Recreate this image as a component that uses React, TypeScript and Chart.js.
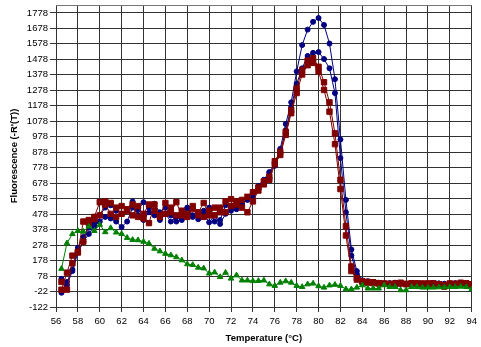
import React, { useEffect, useRef } from 'react';
import { Chart, registerables } from 'chart.js';

Chart.register(...registerables);

const TEMPS = [
  56.5, 57, 57.5, 58, 58.5, 59, 59.5, 60, 60.5, 61, 61.5, 62, 62.5, 63, 63.5, 64, 64.5, 65, 65.5, 66,
  66.5, 67, 67.5, 68, 68.5, 69, 69.5, 70, 70.5, 71, 71.5, 72, 72.5, 73, 73.5, 74, 74.5, 75, 75.5, 76,
  76.5, 77, 77.5, 78, 78.5, 79, 79.5, 80, 80.5, 81, 81.5, 82, 82.5, 83, 83.5, 84, 84.5, 85, 85.5, 86,
  86.5, 87, 87.5, 88, 88.5, 89, 89.5, 90, 90.5, 91, 91.5, 92, 92.5, 93, 93.5, 94,
];

const BLUE_1 = [
  -30, 40, 120, 260, 330, 390, 420, 470, 520, 535, 500, 480, 510, 560, 505, 555, 520, 545, 490, 520,
  470, 430, 500, 515, 460, 470, 500, 520, 430, 440, 535, 520, 510, 540, 580,
  610, 660, 700, 750, 800, 900, 1060, 1200, 1400, 1570, 1670, 1720, 1745,
  1700, 1580, 1350, 960, 570, 250, 110, 50,
  45, 40, 35, 30, 30, 35, 30, 28, 30, 32, 28, 30, 25, 30, 28, 30, 32, 28, 30, 25,
];

const BLUE_2 = [
  60, 20, 110, 230, 300, 350, 400, 430, 460, 450, 430, 395, 430, 520, 470, 440, 490, 470, 440, 480,
  430, 460, 440, 520, 470, 445, 480, 425, 470, 415, 480, 500, 520, 540, 570,
  590, 640, 680, 745, 790, 880, 1020, 1170, 1320, 1420, 1500, 1520, 1525,
  1480, 1420, 1260, 840, 490, 210, 90, 45,
  40, 35, 30, 28, 32, 30, 28, 25, 30, 28, 30, 25, 28, 30, 25, 28, 30, 30, 25, 22,
];

const RED_1 = [
  -10, 100, 210, 235, 430, 440, 460, 555, 560, 550, 520, 530, 500, 540, 460, 480, 540, 500, 470, 550,
  490, 555, 470, 460, 530, 490, 550, 470, 520, 490, 560, 575, 540, 570, 590,
  620, 650, 690, 720, 820, 880, 1010, 1150, 1290, 1410, 1470, 1485, 1430,
  1330, 1200, 1000, 700, 400, 140, 65, 45,
  40, 38, 32, 30, 28, 30, 35, 28, 32, 30, 30, 28, 32, 25, 10, 30, 28, 35, 32, 25,
];

const RED_2 = [
  40, -10, 160, 230, 300, 420, 445, 470, 540, 480, 460, 480, 510, 470, 530, 450, 420, 540, 460, 480,
  520, 470, 500, 480, 510, 470, 460, 500, 470, 520, 490, 530, 560, 520, 490,
  560, 630, 670, 700, 800, 860, 990, 1130, 1260, 1380, 1440, 1455, 1400,
  1280, 1140, 930, 640, 340, 110, 55, 40,
  35, 32, 30, 28, 25, 28, 30, 25, 28, 30, 25, 30, 28, 25, 20, 28, 25, 30, 28, 22,
];

const GREEN = [
  125, 290, 350, 370, 365, 398, 370, 410, 362, 388, 360, 350, 325, 312, 310, 300, 288, 255, 238, 222,
  213, 200, 180, 155, 150, 133, 128, 95, 102, 72, 100, 62, 83, 50, 50, 46, 47, 50, 25, 15,
  36, 45, 36, 15, 8, 25, 30, 13, 4, 18, 22, 15, -7, -7, 4, 19,
  -2, -2, -2, 19, 8, 8, -13, -13, 8, 8, 4, 4, 4, 6, 6, 8, 8, 10, 8, -7,
];

const X_TICKS = [56, 58, 60, 62, 64, 66, 68, 70, 72, 74, 76, 78, 80, 82, 84, 86, 88, 90, 92, 94];
const Y_TICKS = [
  -122, -22, 78, 178, 278, 378, 478, 578, 678, 778, 878, 978, 1078, 1178, 1278, 1378, 1478, 1578, 1678, 1778,
];

const X_TITLE = 'Temperature (°C)';
const Y_TITLE = "Fluorescence (-R'(T))";

const FONT = 'Liberation Sans, Arial, Helvetica, sans-serif';
const GRID = '#333333';

function series(values: number[]) {
  return TEMPS.map((t, i) => ({ x: t, y: values[i] }));
}

export default function App() {
  const ref = useRef<HTMLCanvasElement>(null);

  useEffect(() => {
    document.body.style.margin = '0';
    const canvas = ref.current;
    if (!canvas) return;

    const topBorder = {
      id: 'topBorder',
      beforeDatasetsDraw(chart: any) {
        const { ctx, chartArea } = chart;
        ctx.save();
        ctx.strokeStyle = '#777777';
        ctx.lineWidth = 1;
        ctx.beginPath();
        ctx.moveTo(chartArea.left, Math.round(chartArea.top) + 0.5);
        ctx.lineTo(chartArea.right, Math.round(chartArea.top) + 0.5);
        ctx.stroke();
        ctx.restore();
      },
    };

    const mk = (label: string, values: number[], color: string, style: string, radius: number) => ({
      label,
      data: series(values),
      borderColor: color,
      backgroundColor: color,
      borderWidth: 1,
      pointStyle: style,
      pointRadius: radius,
      pointBorderWidth: 1,
      pointBackgroundColor: color,
      pointBorderColor: color,
      tension: 0,
    });

    const chart = new Chart(canvas, {
      type: 'line',
      data: {
        datasets: [
          mk('Green', GREEN, '#008000', 'triangle', 3.2),
          mk('Red 1', RED_1, '#800000', 'rect', 3.8),
          mk('Red 2', RED_2, '#800000', 'rect', 3.8),
          mk('Blue 1', BLUE_1, '#000080', 'circle', 2.5),
          mk('Blue 2', BLUE_2, '#000080', 'circle', 2.5),
        ] as any,
      },
      options: {
        responsive: false,
        animation: false,
        devicePixelRatio: 1,
        layout: { padding: { top: 0, right: 8, bottom: 0, left: 0 } },
        plugins: { legend: { display: false }, tooltip: { enabled: false } },
        scales: {
          x: {
            type: 'linear',
            min: 56,
            max: 94,
            afterBuildTicks: (s: any) => {
              s.ticks = X_TICKS.map((v) => ({ value: v }));
            },
            afterFit: (s: any) => {
              s.height = 40;
            },
            grid: { color: GRID, lineWidth: 1, tickLength: 5 },
            border: { color: GRID, width: 1 },
            ticks: {
              color: '#000',
              font: { family: FONT, size: 9.5 },
              padding: 4,
              maxRotation: 0,
              autoSkip: false,
              callback: (v: any) => String(v),
            },
            title: {
              display: true,
              text: X_TITLE,
              color: '#000',
              font: { family: FONT, size: 9.5, weight: 'bold' },
              padding: { top: 0, bottom: 3 },
            },
          },
          y: {
            type: 'linear',
            min: -122,
            max: 1829,
            afterBuildTicks: (s: any) => {
              s.ticks = Y_TICKS.map((v) => ({ value: v }));
            },
            afterFit: (s: any) => {
              s.width = 56;
            },
            grid: { color: GRID, lineWidth: 1, tickLength: 6 },
            border: { color: GRID, width: 1 },
            ticks: {
              color: '#000',
              font: { family: FONT, size: 9.5, lineHeight: 0.4 },
              padding: 2,
              autoSkip: false,
              callback: (v: any) => String(v),
            },
            title: {
              display: true,
              text: Y_TITLE,
              color: '#000',
              font: { family: FONT, size: 9.5, weight: 'bold' },
              padding: { top: 9, bottom: 0 },
            },
          },
        },
      } as any,
      plugins: [topBorder],
    });

    return () => chart.destroy();
  }, []);

  return (
    <div style={{ position: 'fixed', left: 0, top: 0, width: 481, height: 347, background: '#fff' }}>
      <canvas ref={ref} width={481} height={347} />
    </div>
  );
}
